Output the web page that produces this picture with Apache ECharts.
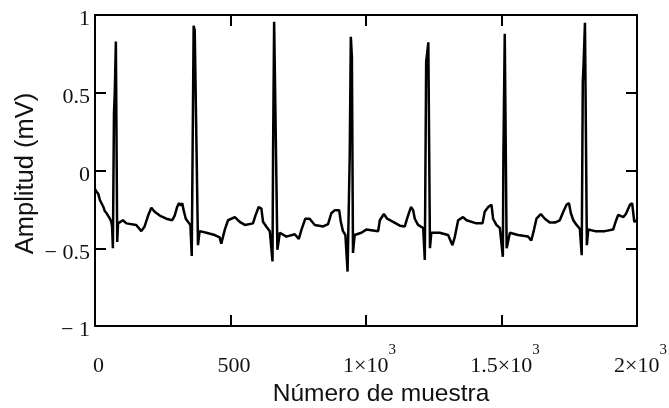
<!DOCTYPE html>
<html>
<head>
<meta charset="utf-8">
<script src="https://cdn.jsdelivr.net/npm/echarts@6/dist/echarts.min.js"></script>
<style>
html,body{margin:0;padding:0;background:#fff;}
#chart{width:669px;height:408px;}
</style>
</head>
<body>
<div id="chart"></div>
<script>
// Sample index (x) and amplitude in mV (y)
var sampleIdx = [
  0,5,12,18,23,31,36,43,48,55,60,63,66,70,73,77,82,85,
  103,116,152,171,183,196,208,220,239,263,285,294,303,310,316,322,327,335,343,352,
  357,364,368,380,386,411,442,460,466,479,491,516,534,553,583,592,604,614,620,632,645,
  655,657,661,673,682,706,737,752,762,776,792,811,842,860,872,885,901,907,915,924,
  932,940,944,948,952,958,983,1001,1045,1051,1066,1078,1100,1125,1143,1155,1166,1174,1180,1192,1211,
  1217,1222,1226,1230,1236,1241,1272,1303,1319,1328,1340,1358,1371,1407,1430,1438,1451,1463,1469,1481,1494,
  1498,1505,1507,1512,1519,1531,1561,1598,1610,1620,1629,1645,1660,1678,1697,1715,1728,1740,1749,1756,1765,1777,1789,
  1796,1800,1803,1808,1815,1820,1845,1882,1912,1921,1931,1949,1959,1974,1982,1990,2000
];
var amplitude = [
  -0.12,-0.135,-0.15,-0.19,-0.2,-0.235,-0.26,-0.275,-0.29,-0.31,-0.33,-0.36,-0.5,0.37,0.5,0.83,-0.46,-0.34,
  -0.32,-0.34,-0.35,-0.39,-0.36,-0.29,-0.24,-0.265,-0.29,-0.31,-0.32,-0.29,-0.235,-0.21,-0.225,-0.21,-0.255,-0.31,-0.33,-0.35,
  -0.55,0.93,0.9,-0.48,-0.39,-0.40,-0.415,-0.43,-0.47,-0.38,-0.32,-0.30,-0.33,-0.35,-0.34,-0.29,-0.235,-0.245,-0.33,-0.36,-0.39,
  -0.585,0.1,0.957,-0.51,-0.40,-0.425,-0.41,-0.44,-0.38,-0.31,-0.31,-0.35,-0.36,-0.345,-0.275,-0.255,-0.255,-0.33,-0.39,-0.415,
  -0.65,0.1,0.86,0.73,-0.53,-0.415,-0.40,-0.38,-0.39,-0.32,-0.28,-0.31,-0.33,-0.355,-0.36,-0.29,-0.235,-0.255,-0.31,-0.35,-0.37,
  -0.575,0.7,0.76,0.824,-0.50,-0.40,-0.40,-0.415,-0.48,-0.425,-0.32,-0.30,-0.32,-0.34,-0.34,-0.265,-0.235,-0.22,-0.31,-0.35,-0.37,
  -0.37,-0.555,0.1,0.88,-0.50,-0.40,-0.415,-0.425,-0.45,-0.38,-0.31,-0.28,-0.31,-0.335,-0.335,-0.32,-0.265,-0.22,-0.21,-0.275,-0.32,-0.35,-0.375,
  -0.545,0.57,0.69,0.95,-0.48,-0.38,-0.39,-0.39,-0.38,-0.33,-0.285,-0.30,-0.28,-0.22,-0.21,-0.33,-0.32
];
// Tick labels
var yTickValues = [-1, -0.5, 0, 0.5, 1];
var yTickLabels = ['\u2212 1', '\u2212 0.5', '0', '0.5', '1'];
var xTickValues = [0, 500, 1000, 1500, 2000];
var xTickMantissa = ['0', '500', '1\u00d710', '1.5\u00d710', '2\u00d710'];
var xTickExponent = ['', '', '3', '3', '3'];
var xTitle = 'N\u00famero de muestra';
var yTitle = 'Amplitud (mV)';

var seriesData = sampleIdx.map(function (s, i) { return [s, amplitude[i]]; });

var textColor = '#111';
var lineStyle = { color: '#000', width: 2 };
var tickStyle = { show: true, inside: true, length: 11, lineStyle: { color: '#000', width: 2 } };

var chart = echarts.init(document.getElementById('chart'), null, { renderer: 'canvas' });
chart.setOption({
  animation: false,
  backgroundColor: '#fff',
  grid: { left: 95, right: 32, top: 15, bottom: 82, containLabel: false, outerBoundsMode: 'none' },
  xAxis: [{
    type: 'value', position: 'bottom', min: 0, max: 2000, interval: 500,
    splitLine: { show: false },
    axisLine: { show: true, onZero: false, lineStyle: lineStyle },
    axisTick: tickStyle,
    axisLabel: {
      margin: 17,
      formatter: function (v) {
        var i = xTickValues.indexOf(v);
        if (i < 0) return '';
        var s = '{a|' + xTickMantissa[i] + '}';
        if (xTickExponent[i]) s += '{s|' + xTickExponent[i] + '}';
        return s;
      },
      rich: {
        a: { fontFamily: 'Liberation Serif', fontSize: 22, color: textColor, padding: [12, 0, 0, 7], verticalAlign: 'bottom' },
        s: { fontFamily: 'Liberation Serif', fontSize: 15, color: textColor, verticalAlign: 'top' }
      }
    },
    name: xTitle, nameLocation: 'middle', nameGap: 54,
    nameTextStyle: { fontFamily: 'Liberation Sans', fontSize: 24.5, color: textColor, padding: [0, 0, 0, 30] }
  }, {
    type: 'value', position: 'top', min: 0, max: 2000, interval: 500,
    splitLine: { show: false },
    axisLine: { show: true, onZero: false, lineStyle: lineStyle },
    axisTick: tickStyle,
    axisLabel: { show: false }
  }],
  yAxis: [{
    type: 'value', position: 'left', min: -1, max: 1, interval: 0.5,
    splitLine: { show: false },
    axisLine: { show: true, onZero: false, lineStyle: lineStyle },
    axisTick: tickStyle,
    axisLabel: {
      margin: 5,
      formatter: function (v) {
        var i = yTickValues.indexOf(v);
        return i < 0 ? '' : '{a|' + yTickLabels[i] + '}';
      },
      rich: {
        a: { fontFamily: 'Liberation Serif', fontSize: 22, color: textColor, padding: [9, 0, 0, 0] }
      }
    },
    name: yTitle, nameLocation: 'middle', nameGap: 56, nameMoveOverlap: false,
    nameTextStyle: { fontFamily: 'Liberation Sans', fontSize: 25.5, color: textColor, padding: [0, 6, 0, 0] }
  }, {
    type: 'value', position: 'right', min: -1, max: 1, interval: 0.5,
    splitLine: { show: false },
    axisLine: { show: true, onZero: false, lineStyle: lineStyle },
    axisTick: tickStyle,
    axisLabel: { show: false }
  }],
  series: [{
    type: 'line',
    xAxisIndex: 0, yAxisIndex: 0,
    data: seriesData,
    showSymbol: false,
    symbol: 'none',
    lineStyle: { color: '#000', width: 2.5 },
    silent: true
  }]
});
</script>
</body>
</html>
